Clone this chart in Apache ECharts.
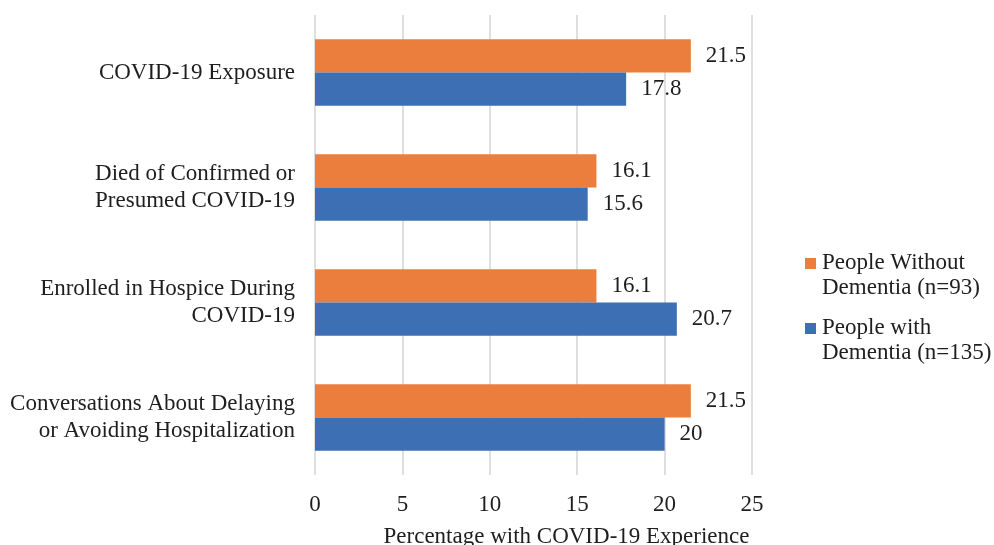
<!DOCTYPE html>
<html>
<head>
<meta charset="utf-8">
<script src="https://cdn.jsdelivr.net/npm/echarts@6/dist/echarts.min.js"></script>
<style>
  html, body { margin: 0; padding: 0; background: #fff; }
  #chart { width: 994px; height: 545px; }
</style>
</head>
<body>
<div id="chart"></div>
<script>
// Categories, top to bottom
var categories = [
  'COVID-19 Exposure',
  'Died of Confirmed or\nPresumed COVID-19',
  'Enrolled in Hospice During\nCOVID-19',
  'Conversations About Delaying\nor Avoiding Hospitalization'
];
var seriesNames = ['People Without\nDementia (n=93)', 'People with\nDementia (n=135)'];
var withoutDementia = [21.5, 16.1, 16.1, 21.5];
var withDementia = [17.8, 15.6, 20.7, 20];
var xTicks = [0, 5, 10, 15, 20, 25];
var xTitle = 'Percentage with COVID-19 Experience';

var FONT = '"Liberation Serif", "Times New Roman", serif';
var FS = 23;
var ORANGE = '#EB7E3C';
var BLUE = '#3D6FB4';
var TEXT = '#1e1e1e';

var chart = echarts.init(document.getElementById('chart'));

function barLabel() {
  return {
    show: true,
    position: 'right',
    distance: 15,
    color: TEXT,
    fontFamily: FONT,
    fontSize: FS
  };
}

// Legend drawn as swatch + two-line caption, swatch aligned with first line
var legendItems = [
  { name: seriesNames[0], color: ORANGE, top: 258 },
  { name: seriesNames[1], color: BLUE, top: 323 }
];
var graphics = [];
legendItems.forEach(function (it) {
  graphics.push({
    type: 'rect',
    left: 805, top: it.top,
    shape: { width: 11, height: 11 },
    style: { fill: it.color }
  });
  graphics.push({
    type: 'text',
    left: 822, top: it.top - 7.5,
    style: {
      text: it.name,
      fill: TEXT,
      font: FS + 'px ' + FONT,
      lineHeight: 25
    }
  });
});

chart.setOption({
  animation: false,
  grid: { left: 315, right: 242, top: 15, bottom: 70, containLabel: false, outerBoundsMode: 'none' },
  xAxis: {
    type: 'value',
    min: xTicks[0],
    max: xTicks[xTicks.length - 1],
    interval: 5,
    axisLine: { show: false },
    axisTick: { show: false },
    splitLine: { show: true, lineStyle: { color: '#d4d4d4', width: 1.5 } },
    axisLabel: { margin: 18, color: TEXT, fontFamily: FONT, fontSize: FS },
    name: xTitle,
    nameLocation: 'middle',
    nameGap: 50,
    nameTextStyle: { color: TEXT, fontFamily: FONT, fontSize: FS, padding: [0, 0, 0, 66] }
  },
  yAxis: {
    type: 'category',
    inverse: true,
    data: categories,
    axisLine: { show: false },
    axisTick: { show: false },
    axisLabel: { margin: 20, color: TEXT, fontFamily: FONT, fontSize: FS, lineHeight: 27, align: 'right' }
  },
  series: [
    {
      name: seriesNames[0], type: 'bar', data: withoutDementia,
      itemStyle: { color: ORANGE },
      barGap: '0%', barCategoryGap: '42%',
      label: barLabel()
    },
    {
      name: seriesNames[1], type: 'bar', data: withDementia,
      itemStyle: { color: BLUE },
      barGap: '0%', barCategoryGap: '42%',
      label: barLabel()
    }
  ],
  graphic: graphics
});
</script>
</body>
</html>
